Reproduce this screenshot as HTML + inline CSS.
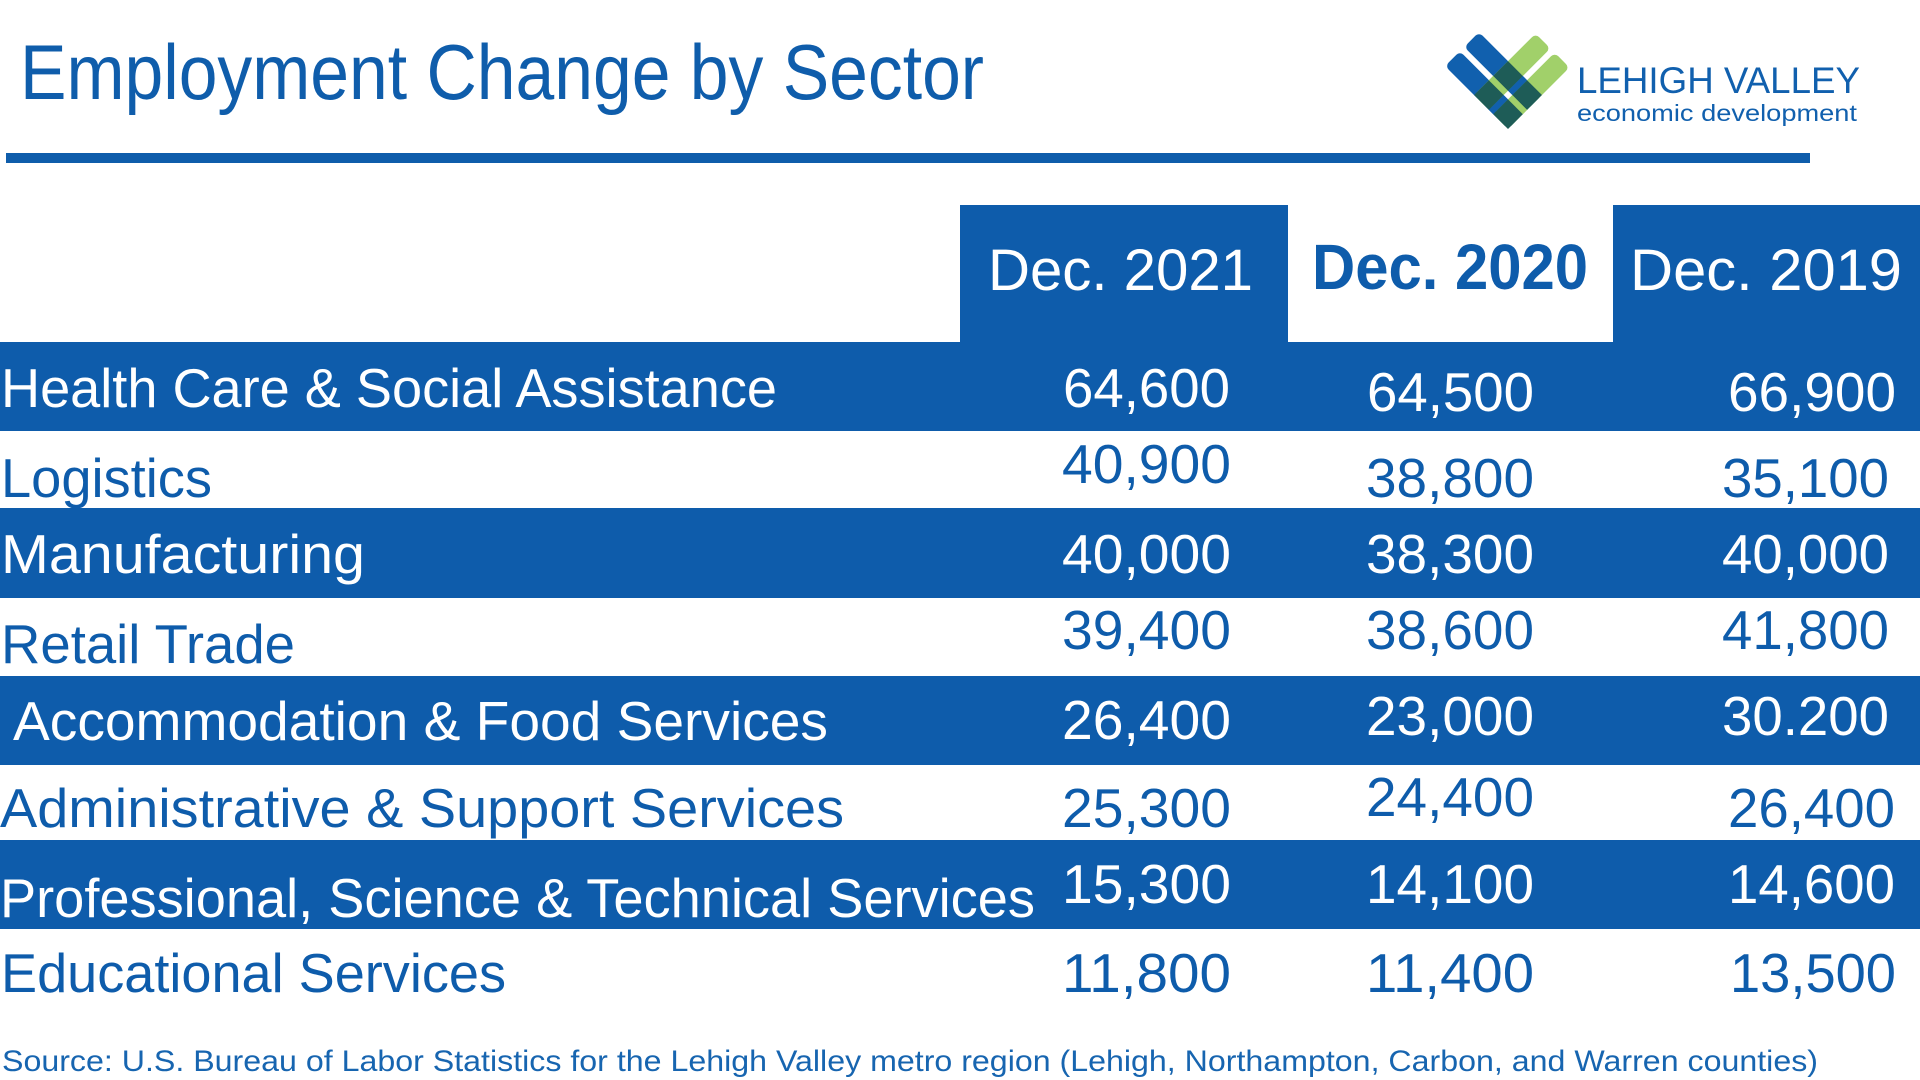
<!DOCTYPE html>
<html>
<head>
<meta charset="utf-8">
<style>
  html,body{margin:0;padding:0;background:#ffffff;}
  svg{display:block;}
  text{font-family:"Liberation Sans", sans-serif;}
</style>
</head>
<body>
<svg width="1920" height="1080" viewBox="0 0 1920 1080" xmlns="http://www.w3.org/2000/svg">
  <rect x="0" y="0" width="1920" height="1080" fill="#ffffff"/>

  <!-- Title -->
  <text x="20" y="99" font-size="78" fill="#0F5DAB" textLength="964" lengthAdjust="spacingAndGlyphs">Employment Change by Sector</text>

  <!-- Rule -->
  <rect x="6" y="153" width="1804" height="10" fill="#0F5DAB"/>

  <!-- Logo mark -->
  <g transform="matrix(-0.7071,-0.7071,0.7071,-0.7071,1508,129)">
    <!-- blue strips (along a) -->
    <rect x="0" y="0" width="89" height="21" rx="5" fill="#1160AE"/>
    <rect x="0" y="27" width="89" height="21" rx="5" fill="#1160AE"/>
    <!-- green strips (along b) -->
    <rect x="0" y="0" width="21" height="87" rx="5" fill="#A1D06A"/>
    <rect x="27" y="0" width="21" height="87" rx="5" fill="#A1D06A"/>
    <!-- overlaps -->
    <rect x="0" y="0" width="21" height="21" fill="#1E5C57"/>
    <rect x="27" y="0" width="21" height="21" fill="#1E5C57"/>
    <rect x="0" y="27" width="21" height="21" fill="#1E5C57"/>
    <rect x="27" y="27" width="21" height="21" fill="#1E5C57"/>
    <!-- blue shows through green gap -->
    <rect x="21" y="0" width="6" height="21" fill="#1160AE"/>
    <rect x="21" y="27" width="6" height="21" fill="#1160AE"/>
    <!-- green shows through blue gap -->
    <rect x="0" y="21" width="21" height="6" fill="#A1D06A"/>
    <rect x="27" y="21" width="21" height="6" fill="#A1D06A"/>
    <rect x="21" y="21" width="6" height="6" fill="#ffffff"/>
  </g>
  <text x="1577" y="93" font-size="37" fill="#1160AE" textLength="283" lengthAdjust="spacingAndGlyphs">LEHIGH VALLEY</text>
  <text x="1577" y="121" font-size="23" fill="#1160AE" textLength="280" lengthAdjust="spacingAndGlyphs">economic development</text>

  <!-- Header boxes -->
  <rect x="960" y="205" width="328" height="137" fill="#0E5CAB"/>
  <rect x="1613" y="205" width="307" height="137" fill="#0E5CAB"/>
  <text x="988" y="290" font-size="58" fill="#ffffff" textLength="265" lengthAdjust="spacingAndGlyphs">Dec. 2021</text>
  <text x="1312" y="289" font-size="64" font-weight="bold" fill="#0E5CAB" textLength="276" lengthAdjust="spacingAndGlyphs">Dec. 2020</text>
  <text x="1630" y="290" font-size="58" fill="#ffffff" textLength="272" lengthAdjust="spacingAndGlyphs">Dec. 2019</text>

  <!-- Row bands -->
  <rect x="0" y="342" width="1920" height="89" fill="#0E5CAB"/>
  <rect x="0" y="508" width="1920" height="90" fill="#0E5CAB"/>
  <rect x="0" y="676" width="1920" height="89" fill="#0E5CAB"/>
  <rect x="0" y="840" width="1920" height="89" fill="#0E5CAB"/>

  <!-- Labels -->
  <g font-size="55">
    <text x="1" y="407" fill="#ffffff" textLength="776" lengthAdjust="spacingAndGlyphs">Health Care &amp; Social Assistance</text>
    <text x="1" y="497" fill="#0E5CAB" textLength="211" lengthAdjust="spacingAndGlyphs">Logistics</text>
    <text x="1" y="573" fill="#ffffff" textLength="364" lengthAdjust="spacingAndGlyphs">Manufacturing</text>
    <text x="1" y="663" fill="#0E5CAB" textLength="294" lengthAdjust="spacingAndGlyphs">Retail Trade</text>
    <text x="13" y="740" fill="#ffffff" textLength="815" lengthAdjust="spacingAndGlyphs">Accommodation &amp; Food Services</text>
    <text x="0" y="827" fill="#0E5CAB" textLength="844" lengthAdjust="spacingAndGlyphs">Administrative &amp; Support Services</text>
    <text x="0" y="917" fill="#ffffff" textLength="1035" lengthAdjust="spacingAndGlyphs">Professional, Science &amp; Technical Services</text>
    <text x="1" y="992" fill="#0E5CAB" textLength="505" lengthAdjust="spacingAndGlyphs">Educational Services</text>
  </g>

  <!-- Numbers -->
  <g font-size="55" lengthAdjust="spacingAndGlyphs">
    <!-- row 1 -->
    <text x="1063" y="407" fill="#ffffff" textLength="167" lengthAdjust="spacingAndGlyphs">64,600</text>
    <text x="1367" y="411" fill="#ffffff" textLength="167" lengthAdjust="spacingAndGlyphs">64,500</text>
    <text x="1728" y="411" fill="#ffffff" textLength="168" lengthAdjust="spacingAndGlyphs">66,900</text>
    <!-- row 2 -->
    <text x="1062" y="483" fill="#0E5CAB" textLength="169" lengthAdjust="spacingAndGlyphs">40,900</text>
    <text x="1366" y="497" fill="#0E5CAB" textLength="168" lengthAdjust="spacingAndGlyphs">38,800</text>
    <text x="1722" y="497" fill="#0E5CAB" textLength="167" lengthAdjust="spacingAndGlyphs">35,100</text>
    <!-- row 3 -->
    <text x="1062" y="573" fill="#ffffff" textLength="169" lengthAdjust="spacingAndGlyphs">40,000</text>
    <text x="1366" y="573" fill="#ffffff" textLength="168" lengthAdjust="spacingAndGlyphs">38,300</text>
    <text x="1722" y="573" fill="#ffffff" textLength="167" lengthAdjust="spacingAndGlyphs">40,000</text>
    <!-- row 4 -->
    <text x="1062" y="649" fill="#0E5CAB" textLength="169" lengthAdjust="spacingAndGlyphs">39,400</text>
    <text x="1366" y="649" fill="#0E5CAB" textLength="168" lengthAdjust="spacingAndGlyphs">38,600</text>
    <text x="1722" y="649" fill="#0E5CAB" textLength="167" lengthAdjust="spacingAndGlyphs">41,800</text>
    <!-- row 5 -->
    <text x="1062" y="739" fill="#ffffff" textLength="169" lengthAdjust="spacingAndGlyphs">26,400</text>
    <text x="1366" y="735" fill="#ffffff" textLength="168" lengthAdjust="spacingAndGlyphs">23,000</text>
    <text x="1722" y="735" fill="#ffffff" textLength="167" lengthAdjust="spacingAndGlyphs">30.200</text>
    <!-- row 6 -->
    <text x="1062" y="827" fill="#0E5CAB" textLength="169" lengthAdjust="spacingAndGlyphs">25,300</text>
    <text x="1366" y="816" fill="#0E5CAB" textLength="168" lengthAdjust="spacingAndGlyphs">24,400</text>
    <text x="1728" y="827" fill="#0E5CAB" textLength="167" lengthAdjust="spacingAndGlyphs">26,400</text>
    <!-- row 7 -->
    <text x="1062" y="903" fill="#ffffff" textLength="169" lengthAdjust="spacingAndGlyphs">15,300</text>
    <text x="1366" y="903" fill="#ffffff" textLength="168" lengthAdjust="spacingAndGlyphs">14,100</text>
    <text x="1728" y="903" fill="#ffffff" textLength="167" lengthAdjust="spacingAndGlyphs">14,600</text>
    <!-- row 8 -->
    <text x="1062" y="992" fill="#0E5CAB" textLength="169" lengthAdjust="spacingAndGlyphs">11,800</text>
    <text x="1366" y="992" fill="#0E5CAB" textLength="168" lengthAdjust="spacingAndGlyphs">11,400</text>
    <text x="1730" y="992" fill="#0E5CAB" textLength="166" lengthAdjust="spacingAndGlyphs">13,500</text>
  </g>

  <!-- Source -->
  <text x="2" y="1071" font-size="30" fill="#1765B0" textLength="1816" lengthAdjust="spacingAndGlyphs">Source: U.S. Bureau of Labor Statistics for the Lehigh Valley metro region (Lehigh, Northampton, Carbon, and Warren counties)</text>
</svg>
</body>
</html>
